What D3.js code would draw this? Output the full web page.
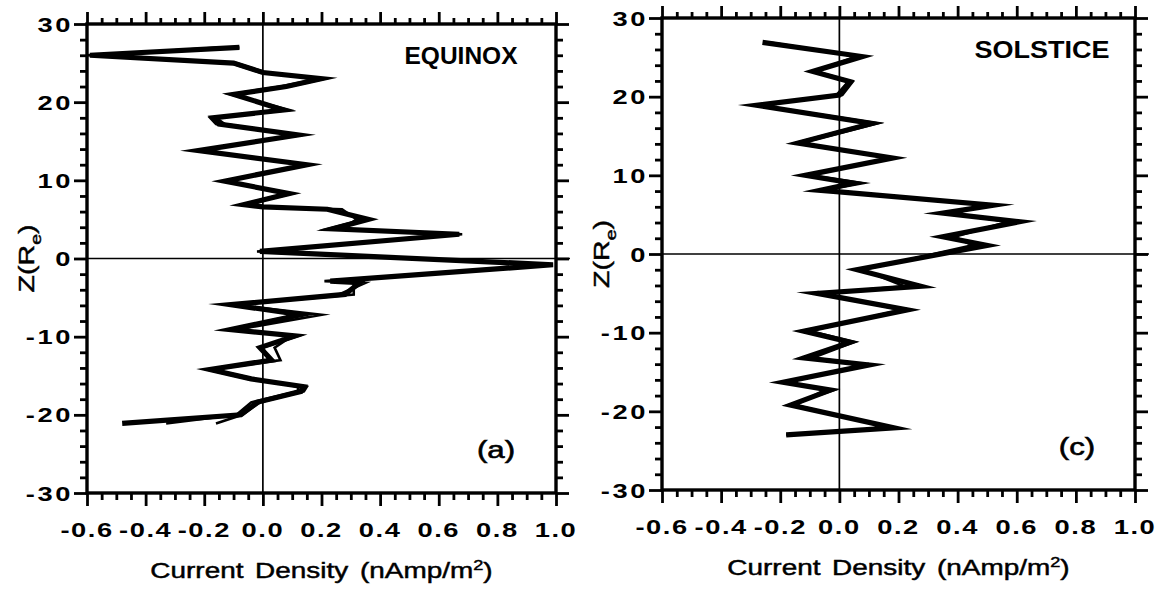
<!DOCTYPE html>
<html>
<head>
<meta charset="utf-8">
<script src="https://cdn.jsdelivr.net/npm/d3@7"></script>
<style>
  body { margin: 0; background: #fff; }
  text { font-family: "Liberation Sans", Arial, Helvetica, sans-serif; fill: #000; }
</style>
</head>
<body>
<div id="chart"></div>
<script>
// tick labels
const xTicks = [-0.6, -0.4, -0.2, 0.0, 0.2, 0.4, 0.6, 0.8, 1.0];
const xTickLabels = ['-0.6', '-0.4', '-0.2', '0.0', '0.2', '0.4', '0.6', '0.8', '1.0'];
const yTicks = [-30, -20, -10, 0, 10, 20, 30];
const yTickLabels = ['-30', '-20', '-10', '0', '10', '20', '30'];

// EQUINOX profiles (z in Re, current density in nAmp/m^2), several runs overlaid
const eqZ = [27.0, 26.0, 25.0, 23.8, 23.0, 22.0, 21.0, 19.0, 18.0, 17.2,
  15.8, 13.8, 12.0, 9.9, 8.3, 6.9, 6.6, 6.3, 5.0, 3.8,
  3.1, 0.9, -0.8, -2.9, -3.1, -4.6, -5.9, -7.2, -9.1, -9.9,
  -11.4, -13.0, -14.2, -15.4, -16.4, -17.0, -18.4, -20.0, -21.1];
const eqRunA = [-0.08, -0.59, -0.10, 0.00, 0.20, 0.08, -0.10, 0.07, -0.17, -0.15,
  0.12, -0.22, 0.15, -0.13, 0.09, -0.065, 0.00, 0.22, 0.36, 0.24,
  0.67, -0.01, 0.99, 0.23, 0.33, 0.28, -0.11, 0.13, -0.11, 0.11,
  -0.01, 0.03, -0.18, -0.04, 0.14, 0.13, -0.02, -0.075, -0.48];
const eqRunB = [-0.15, -0.58, -0.09, 0.01, 0.19, 0.06, -0.11, 0.09, -0.16, -0.13,
  0.11, -0.21, 0.14, -0.12, 0.10, -0.06, 0.01, 0.27, 0.32, 0.27,
  0.66, -0.02, 0.97, 0.25, 0.31, 0.31, -0.10, 0.20, -0.09, 0.10,
  0.04, 0.06, -0.17, -0.03, 0.12, 0.12, -0.04, -0.09, -0.33];
const eqRunC = [-0.08, -0.60, -0.11, -0.01, 0.21, 0.09, -0.09, 0.06, -0.18, -0.16,
  0.13, -0.22, 0.16, -0.13, 0.08, -0.07, 0.00, 0.24, 0.34, 0.22,
  0.68, 0.00, 0.98, 0.21, 0.35, 0.26, -0.12, 0.12, -0.12, 0.12,
  0.00, 0.02, -0.19, -0.05, 0.15, 0.14, -0.01, -0.07, -0.16];

// SOLSTICE profiles
const solZ = [26.9, 25.1, 23.2, 21.9, 20.2, 18.9, 16.6, 14.1, 12.2, 10.0,
  9.0, 8.1, 7.9, 6.2, 5.2, 4.1, 2.2, 1.1, -2.0, -4.1,
  -5.0, -7.1, -9.8, -11.2, -13.2, -14.1, -16.3, -17.3, -19.2, -22.1, -23.0];
const solRunA = [-0.26, 0.077, -0.09, 0.037, 0.00, -0.28, 0.11, -0.14, 0.18, -0.115,
  0.047, -0.065, 0.00, 0.52, 0.35, 0.61, 0.35, 0.50, 0.06, 0.275,
  -0.075, 0.23, -0.12, 0.037, -0.12, 0.10, -0.19, -0.03, -0.165, 0.185, -0.18];
const solRunB = [-0.24, 0.07, -0.08, 0.045, 0.01, -0.27, 0.13, -0.13, 0.17, -0.10,
  0.08, -0.05, 0.01, 0.50, 0.37, 0.57, 0.39, 0.45, 0.08, 0.22,
  -0.06, 0.21, -0.10, 0.05, -0.09, 0.09, -0.18, -0.05, -0.15, 0.17, -0.17];
const solRunC = [-0.25, 0.06, -0.09, 0.03, -0.01, -0.28, 0.10, -0.15, 0.17, -0.12,
  0.04, -0.07, 0.00, 0.53, 0.34, 0.59, 0.37, 0.48, 0.06, 0.26,
  -0.08, 0.24, -0.13, 0.03, -0.12, 0.10, -0.19, -0.02, -0.17, 0.19, -0.18];

const W = 1166, H = 590;
const SX = 1.3; // the original lettering is a wide face, stretch it sideways

const svg = d3.select('#chart').append('svg')
  .attr('width', W).attr('height', H);
svg.append('rect').attr('width', W).attr('height', H).attr('fill', '#fff');

// text helper: stretched horizontally around its anchor point
function wideText(g, x, y, str, size, weight, anchor, rot) {
  const t = g.append('text')
    .attr('transform', `translate(${x},${y})` + (rot ? ` rotate(${rot})` : '') + ` scale(${SX},1)`)
    .attr('font-size', size)
    .attr('font-weight', weight)
    .attr('text-anchor', anchor);
  if (str !== null) t.text(str);
  return t;
}

function drawPanel(p) {
  const g = svg.append('g');
  const x = d3.scaleLinear().domain([-0.6, 1.0]).range([p.left, p.right]);
  const y = d3.scaleLinear().domain([-30, 30]).range([p.bottom, p.top]);

  const xMinor = d3.range(-0.6, 1.0001, 0.05).filter(v => Math.abs(Math.round(v * 5) - v * 5) > 1e-6);
  const yMinor = d3.range(-30, 31, 2).filter(v => v % 10 !== 0);

  function ticks(axis, tr, vals, size) {
    const a = g.append('g').attr('transform', tr)
      .call(axis.tickValues(vals).tickSize(size).tickFormat('').tickSizeOuter(0));
    a.select('.domain').remove();
    a.selectAll('line').attr('stroke', '#000').attr('stroke-width', 2.8);
  }
  ticks(d3.axisBottom(x), `translate(0,${p.bottom})`, xTicks, 13);
  ticks(d3.axisBottom(x), `translate(0,${p.bottom})`, xMinor, 7);
  ticks(d3.axisTop(x), `translate(0,${p.top})`, xTicks, 12);
  ticks(d3.axisTop(x), `translate(0,${p.top})`, xMinor, 6);
  ticks(d3.axisLeft(y), `translate(${p.left},0)`, yTicks, 13);
  ticks(d3.axisLeft(y), `translate(${p.left},0)`, yMinor, 7);
  ticks(d3.axisRight(y), `translate(${p.right},0)`, yTicks, 13);
  ticks(d3.axisRight(y), `translate(${p.right},0)`, yMinor, 7);

  // zero lines
  g.append('line').attr('x1', p.left).attr('x2', p.right + 14)
    .attr('y1', y(0)).attr('y2', y(0)).attr('stroke', '#000').attr('stroke-width', 1.7);
  g.append('line').attr('x1', x(0)).attr('x2', x(0))
    .attr('y1', p.top).attr('y2', p.bottom).attr('stroke', '#000').attr('stroke-width', 1.7);

  // frame
  g.append('rect').attr('x', p.left).attr('y', p.top)
    .attr('width', p.right - p.left).attr('height', p.bottom - p.top)
    .attr('fill', 'none').attr('stroke', '#000').attr('stroke-width', 3.4);

  // profiles
  const line = d3.line().x(d => x(d[1])).y(d => y(d[0]));
  p.runs.forEach((run, i) => {
    g.append('path')
      .datum(p.z.map((z, k) => [z, run[k]]))
      .attr('d', line)
      .attr('fill', 'none')
      .attr('stroke', '#000')
      .attr('stroke-width', i === 0 ? 5.2 : 2.6)
      .attr('stroke-linejoin', 'miter')
      .attr('stroke-miterlimit', 12);
  });

  // tick labels
  xTicks.forEach((v, i) => {
    wideText(g, x(v), p.bottom + 44, xTickLabels[i], 21, 'bold', 'middle')
      .attr('letter-spacing', 1.2);
  });
  yTicks.forEach((v, i) => {
    wideText(g, p.left - 14, y(v) + 7.5, yTickLabels[i], 21, 'bold', 'end')
      .attr('letter-spacing', 2);
  });

  // axis titles
  const xt = wideText(g, (p.left + p.right) / 2, p.bottom + 85, null, 21.5, 'normal', 'middle')
    .attr('stroke', '#000').attr('stroke-width', 0.45).attr('word-spacing', 3);
  xt.append('tspan').text('Current Density (nAmp/m');
  xt.append('tspan').attr('dy', -8).attr('font-size', 14).text('2');
  xt.append('tspan').attr('dy', 8).text(')');

  const yt = wideText(g, p.left - 53, (p.top + p.bottom) / 2, null, 22, 'normal', 'middle', -90)
    .attr('stroke', '#000').attr('stroke-width', 0.45);
  yt.append('tspan').text('Z(R');
  yt.append('tspan').attr('dy', 7).attr('font-size', 15).text('e');
  yt.append('tspan').attr('dy', -7).text(')');

  // panel labels
  g.append('text').attr('x', p.nameX).attr('y', p.top + 40)
    .attr('font-size', 23).attr('font-weight', 'bold').attr('text-anchor', 'middle')
    .attr('textLength', p.nameW).attr('lengthAdjust', 'spacingAndGlyphs')
    .text(p.name);
  wideText(g, p.tagX, p.bottom - 35, p.tag, 24, 'normal', 'middle')
    .attr('stroke', '#000').attr('stroke-width', 0.6);
}

drawPanel({ left: 87, right: 556, top: 24, bottom: 493, z: eqZ, runs: [eqRunA, eqRunB, eqRunC],
  name: 'EQUINOX', nameX: 461, nameW: 113, tag: '(a)', tagX: 496 });
drawPanel({ left: 662, right: 1135, top: 18, bottom: 490, z: solZ, runs: [solRunA, solRunB, solRunC],
  name: 'SOLSTICE', nameX: 1042, nameW: 135, tag: '(c)', tagX: 1077 });
</script>
</body>
</html>
